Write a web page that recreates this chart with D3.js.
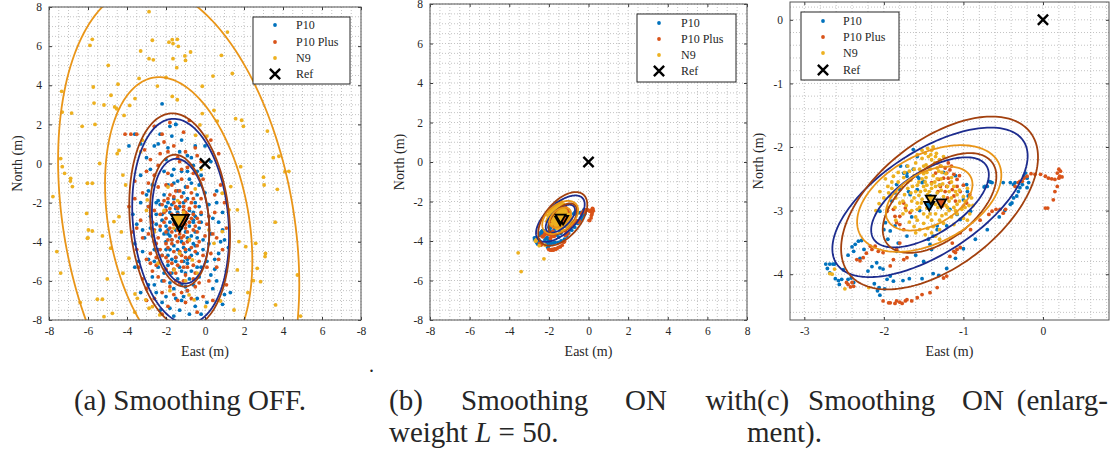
<!DOCTYPE html>
<html>
<head>
<meta charset="utf-8">
<script src="https://cdn.jsdelivr.net/npm/d3@7"></script>
<style>
  body { margin: 0; background: #fff; }
  svg text { font-family: "Liberation Serif", "DejaVu Serif", serif; fill: #262626; }
</style>
</head>
<body>
<svg id="fig" width="1114" height="450" font-family="Liberation Serif, DejaVu Serif, serif"></svg>
<script>
// ---- data ----
const seriesNames = ["P10", "P10 Plus", "N9"];
const refPoint = [0, 0];

// (a) smoothing off: scatter
const offP10 = [[-1.2,-3.1],[-0.8,-2.4],[-1.9,-3.6],[-0.5,-4.2],[-1.6,-1.8],[-2.2,-2.9],[-0.9,-5.1],[-1.4,-0.9],[-0.3,-3.3],[-2.6,-4.4],
  [-1.0,-1.2],[-1.7,-5.6],[0.2,-2.1],[-2.9,-2.2],[-0.6,-6.2],[-1.3,-4.6],[-2.1,-0.4],[-0.2,-0.6],[-3.1,-3.8],[0.5,-4.9],
  [-1.8,-2.5],[-0.7,-3.7],[-1.5,-3.4],[-2.4,-5.3],[-0.4,-1.6],[-1.1,-6.8],[-2.7,-1.1],[0.7,-3.0],[-3.4,-5.0],[-1.9,0.8],
  [-0.9,0.4],[-2.3,1.5],[-1.5,2.0],[-3.6,1.5],[-2.6,0.9],[-0.5,0.9],[0.3,0.1],[-3.0,0.3],[-1.8,-7.4],[-0.8,-7.7],
  [0.1,-7.1],[-2.5,-6.6],[1.1,-5.5],[0.9,-2.5],[-3.7,-2.6],[-3.3,-0.6],[0.6,-1.4],[-2.2,-6.0],[-1.4,-5.9],[0.4,-6.4],
  [-1.1,-2.0],[-1.6,-2.7],[-0.6,-2.9],[-2.0,-4.0],[-1.2,-4.0],[-0.4,-5.3],[-2.8,-3.3],[-1.7,-4.9],[-0.1,-4.4],[-1.0,-3.5],
  [-2.1,-1.6],[-0.2,-2.6],[-1.4,-1.4],[-2.5,-2.6],[-0.7,-4.7],[-1.9,-5.2],[-1.0,-5.6],[-2.3,-3.4],[-0.3,-1.1],[-1.6,-0.3],
  [-0.9,-0.4],[-2.6,-4.0],[0.3,-3.6],[-1.3,-2.2],[-0.5,-2.0],[-1.8,-3.0],[-1.1,-4.3],[-2.0,-2.2],[-0.8,-3.2],[-1.5,-5.0],
  [-0.3,-5.8],[-2.7,-5.8],[-3.2,-4.5],[0.8,-4.0],[1.0,-6.7],[-3.5,-3.1],[-1.2,-7.0],[-0.5,-7.3],[0.0,0.9],[-2.8,-0.3],
  [-1.2,1.2],[-3.9,0.9],[-1.8,1.9],[-2.0,-6.8],[0.5,-5.4],[-2.9,-6.2],[-1.6,-6.4],[1.2,-4.3],[-3.6,-4.1],[-0.6,-0.1],
  [-1.9,-1.1],[-2.4,-1.9],[0.4,-2.8],[-1.3,-3.8],[-0.7,-5.5],[-2.2,-4.7],[-1.0,-2.7],[-1.7,-3.9],[-0.4,-3.8],[-2.5,-3.1],
  [-1.4,-4.4],[-0.9,-1.8],[-1.9,-2.0],[-1.1,-5.0],[-2.1,-3.6],[-0.6,-4.1],[-1.5,-2.3],[-0.2,-3.0],[-1.8,-4.4],[-1.2,-6.2],
  [0.1,-5.0],[-2.6,-5.0],[-3.0,-1.6],[0.6,-6.0],[-1.6,-7.8],[-2.3,-7.5],[-0.9,-6.5],[1.3,-6.6],[-2.2,3.05],[-1.5,2.0],
  [-1.5,-2.9],[-0.9,-3.8],[-1.7,-2.1],[-1.1,-1.5],[-0.6,-2.5],[-2.0,-3.2],[-1.3,-5.3],[-0.8,-5.9],[-1.9,-4.7],[-0.4,-4.6],
  [-2.3,-2.1],[-1.2,-0.4],[-0.7,-1.0],[-1.6,-1.0],[-2.4,-4.4],[-0.1,-3.9],[-1.0,-4.5],[-1.4,-3.1],[-0.5,-3.5],[-2.1,-5.6],
  [-1.8,-6.1],[-0.2,-5.3],[-2.7,-3.7],[-2.9,-4.9],[0.2,-4.1],[-1.6,-4.2],[-1.1,-3.0],[-2.2,-2.6],[-0.3,-2.2],[-1.4,-2.5],
  [-0.9,-4.9],[-1.9,-3.4],[-0.6,-3.0],[-1.2,-5.5],[-2.5,-2.0],[-1.7,-0.6],[-0.8,-0.8],[-2.8,-2.7],[0.0,-1.5],[-3.2,-3.4],
  [-1.0,-6.3],[-1.5,-6.9],[-0.4,-6.9],[-2.6,-6.2],[0.3,-5.7],[0.7,-4.6],[0.9,-3.4],[-3.3,-2.0],[-2.9,-1.4],[-1.3,0.6],
  [-2.0,0.2],[-0.7,0.3],[-2.4,1.0],[-3.3,1.0],[-1.7,1.4],[-0.4,-0.4],[0.6,-2.0],[1.0,-3.9],[-3.6,-5.3],[-3.3,-6.6],
  [-2.2,-7.1],[-1.3,-7.5],[-0.2,-7.7],[0.9,-7.2],[-1.5,-4.8],[-0.8,-4.4],[-2.0,-4.4],[-1.2,-3.3],[-1.8,-3.7],[-0.5,-2.7]];
const offPlus = [[-1.3,-3.0],[-0.9,-2.6],[-1.7,-3.5],[-1.1,-4.1],[-1.5,-2.2],[-0.6,-3.4],[-2.0,-2.8],[-1.2,-1.7],[-0.8,-4.8],[-1.6,-4.5],
  [-1.0,-3.3],[-1.9,-3.9],[-0.5,-2.2],[-2.3,-3.2],[-1.4,-5.2],[-0.7,-1.5],[-2.1,-1.9],[-1.8,-5.6],[-0.3,-4.0],[-1.1,-2.4],
  [-1.5,-3.7],[-0.4,-2.8],[-2.5,-4.1],[-1.0,-5.7],[-1.7,-1.1],[-0.2,-1.8],[-2.6,-2.4],[-1.3,-6.1],[-0.6,-5.2],[-2.2,-4.7],
  [-1.2,-0.8],[-1.9,-0.5],[-0.9,-0.2],[-2.4,-1.2],[-2.9,-3.6],[0.1,-3.1],[0.3,-4.6],[-3.0,-4.9],[-0.5,-6.3],[-1.6,-6.7],
  [-2.1,-6.0],[0.2,-6.0],[-2.7,-5.5],[-3.3,-2.9],[-3.2,-1.5],[0.5,-2.5],[0.6,-3.8],[-1.4,0.3],[-2.3,0.5],[-0.4,0.4],
  [-4.1,1.5],[-3.8,1.5],[-3.5,1.5],[-3.1,0.7],[-2.2,1.5],[-2.1,1.1],[-1.9,0.6],[-1.3,0.1],[0.3,1.2],[0.7,0.5],
  [-0.5,0.8],[-2.8,0.2],[-3.6,-0.9],[-3.9,-2.2],[-3.5,-4.4],[-3.2,-5.9],[-2.6,-6.9],[-1.9,-7.3],[-1.0,-7.1],[-0.1,-6.8],
  [0.6,-5.3],[0.9,-4.4],[1.0,-2.0],[-0.1,-0.8],[-0.7,-2.0],[-1.4,-2.6],[-1.8,-2.3],[-1.1,-3.7],[-0.8,-3.0],[-1.6,-3.1],
  [-2.0,-3.5],[-1.3,-4.5],[-0.7,-4.3],[-1.9,-4.3],[-1.0,-4.8],[-1.5,-1.4],[-0.9,-1.2],[-2.3,-2.6],[-0.4,-3.5],[-1.2,-5.0],
  [-1.7,-5.1],[-0.6,-5.9],[-2.0,-5.4],[-1.1,-2.9],[-1.4,-3.4],[-0.5,-4.5],[-2.4,-3.8],[-1.8,-1.6],[-1.0,-1.9],[-0.2,-2.5],
  [-2.7,-3.0],[-1.5,-6.0],[-0.9,-6.5],[-2.4,-5.8],[0.0,-3.7],[-2.8,-4.6],[-1.2,-3.8],[-1.6,-2.0],[-0.3,-5.0],[-1.7,-4.1],
  [-0.8,-3.9],[-2.1,-2.5],[-1.0,-2.5],[-1.3,-2.0],[-2.0,-4.8],[-0.6,-2.6],[-1.4,-7.0],[-0.4,-7.6],[-2.2,-7.7],[0.4,-7.0],
  [-3.0,-7.0],[1.1,-6.2],[-2.9,-1.0],[0.8,-1.1],[-1.8,2.1],[-2.6,1.9],[-1.1,1.6],[-0.8,2.2],
  [-1.2,-3.2],[-1.5,-2.8],[-0.9,-3.5],[-1.8,-3.3],[-1.1,-2.2],[-1.4,-4.0],[-0.7,-2.8],[-2.0,-4.1],[-1.6,-5.4],[-0.9,-5.3],
  [-1.3,-1.4],[-0.6,-1.8],[-2.2,-2.1],[-1.7,-2.6],[-0.5,-3.2],[-1.0,-4.4],[-2.3,-4.4],[-1.5,-4.8],[-0.4,-4.2],[-1.9,-1.8],
  [-1.1,-6.0],[-1.8,-6.3],[-0.7,-6.9],[-2.5,-5.2],[-2.6,-3.4],[0.2,-2.7],[0.4,-3.6],[-0.1,-4.7],[-2.9,-2.2],[-3.2,-3.8],
  [-1.2,-0.3],[-0.6,-0.5],[-2.0,-1.1],[-2.6,-0.6],[-0.2,0.1],[-1.6,0.9],[-1.0,0.6],[-2.8,-5.1],[-3.5,-3.3],[0.7,-4.9],
  [-1.4,-2.3],[-1.0,-3.1],[-1.7,-3.9],[-1.2,-4.7],[-0.8,-2.3],[-2.1,-3.0],[-1.9,-5.0],[-0.5,-5.6],[-2.2,-6.6],[-1.2,-6.6],
  [-0.3,-6.1],[0.1,-5.3],[-3.0,-6.4],[-3.4,-5.3],[-3.7,-3.5],[-3.6,-1.8],[-3.0,-0.4],[-2.4,-0.1],[0.5,-1.6],[1.1,-3.3],
  [-1.3,-3.6],[-1.6,-1.7],[-0.3,-3.0],[-2.5,-4.8],[-0.9,-4.0],[-1.5,-5.6],[-2.0,-2.4],[-1.1,-5.3]];
const offN9 = [[-2.87,7.76],[1.15,6.72],[-5.78,6.35],[-5.9,6.04],[-2.7,6.3],[-1.85,6.2],[-1.68,6.33],[-1.42,6.35],[-1.37,5.99],[-1.64,6.13],
  [-3.3,5.75],[-2.87,5.36],[-2.65,5.3],[-1.03,5.5],[-1.0,5.27],[-0.74,5.7],[-1.64,5.36],[-1.45,4.9],[-4.96,5.02],[0.84,5.53],
  [1.4,4.6],[0.41,4.47],[-3.38,4.35],[-4.46,4.05],[-5.73,3.91],[-7.35,3.69],[-2.44,3.96],[-0.14,3.95],[-4.82,3.49],[-5.69,3.09],
  [-5.18,2.99],[-4.63,2.89],[-4.53,2.8],[-3.86,2.97],[-3.59,3.32],[-1.68,3.43],[-1.42,3.26],[-7.32,2.63],[-6.84,2.58],[-4.15,2.46],
  [-0.14,2.55],[0.46,2.72],[1.57,2.29],[-5.64,2.0],[1.88,2.21],[1.97,1.9],[3.2,1.66],[-0.26,1.97],[0.63,2.17],[-7.4,0.25],
  [-0.48,1.44],[-4.41,0.67],[-4.5,0.5],[3.79,0.37],[-3.21,1.19],[-7.8,-1.69],[-7.32,-0.16],[-6.89,-0.76],[-6.03,-1.01],[-5.78,-1.01],
  [-6.8,-1.18],[-6.07,-2.55],[-5.98,-3.4],[-5.78,-3.45],[-6.03,-3.82],[-5.26,-3.7],[-4.84,-4.33],[-5.01,-5.9],[-5.52,-6.94],[-5.26,-6.94],
  [-5.18,-7.83],[-4.75,-7.66],[-4.67,-2.97],[-4.41,-2.72],[-4.29,-3.5],[-4.21,-0.59],[-3.9,-4.84],[-4.21,-5.61],[-3.59,-6.67],[-3.47,-6.89],
  [-3.04,-6.97],[-2.87,-7.4],[-2.7,-7.32],[-2.32,-7.74],[-0.82,-6.72],[-0.56,-6.97],[0.03,-7.32],[0.8,-7.03],[1.49,-7.49],[1.74,-3.99],
  [2.09,-4.25],[2.6,-4.08],[2.68,-5.36],[2.48,-5.99],[2.85,-6.04],[3.08,-4.76],[3.62,-7.23],[4.74,-5.7],[4.1,-0.42],[3.71,-1.32],
  [3.03,-1.1],[1.83,-0.16],[1.32,-1.18],[1.23,-2.37],[1.66,-2.37],[0.89,-1.52],[0.89,-3.48],[0.46,-4.08],[1.66,-5.44],[-2.96,-1.86],
  [-4.07,-1.1],[-0.65,-4.93],[-1.59,-5.44],[4.9,-7.8],[3.6,-3.0],[3.0,-0.7],[-7.2,-0.5],[-6.9,-0.9],[-6.0,-3.8],[-5.4,0.0],
  [-1.1,-2.5],[-1.6,-3.3],[-0.8,-3.9],[-2.1,-2.4],[-1.3,-4.6],[-0.5,-1.3],[-2.4,-5.1],[-1.9,-1.2],[-0.4,-5.6],[-1.4,-1.9],
  [-2.6,-3.5],[0.2,-3.4],[-1.0,-6.0],[-1.8,-6.5],[-3.0,-2.4],[-0.2,-0.3],[-3.3,0.6],[0.1,1.4],[-2.0,4.4],[-6.3,1.9],
  [3.5,0.3],[4.3,-0.4],[3.1,-4.6],[2.2,-6.6],[-6.4,-7.1],[-7.4,-5.6],[-7.6,-4.5],[-3.6,-7.6]];

// (a) mean positions and confidence ellipses [cx, cy, semi-major, semi-minor, angle deg]
const offMeans = [[-1.3,-3.05],[-1.2,-2.85],[-1.35,-2.85]];
const offEllipses = [
  [[-1.25,-2.95,3.2,1.45,95],[-1.25,-2.95,5.25,2.45,95]],
  [[-1.3,-2.92,3.38,1.5,95],[-1.3,-2.92,5.5,2.55,95]],
  [[-1.35,-3.0,7.5,3.6,100],[-1.35,-3.0,12.2,5.9,100]]
];

// (b)/(c) smoothing on: scatter (c is an enlargement of b)
const onP10 = [[-2.73,-3.84],[-2.71,-3.91],[-2.68,-3.84],[-2.64,-3.84],[-2.62,-3.84],[-2.68,-3.98],[-2.61,-4.07],[-2.57,-4.10],[-2.53,-4.08],[-2.56,-4.16],
  [-2.51,-3.93],[-2.45,-4.08],[-2.41,-4.06],[-2.38,-4.13],[-2.40,-3.57],[-2.38,-3.64],[-2.36,-3.53],[-2.32,-3.48],[-2.28,-3.47],[-2.25,-3.61],
  [-2.15,-3.88],[-2.09,-3.82],[-2.05,-3.90],[-2.01,-3.92],[-1.96,-4.08],[-1.92,-4.03],[-1.88,-4.11],[-2.06,-4.21],[-2.05,-4.33],[-2.08,-4.26],
  [-2.05,-3.01],[-1.98,-3.19],[-1.92,-3.32],[-1.86,-3.24],[-1.82,-3.51],[-1.84,-3.64],[-1.71,-3.40],
  [-1.76,-4.10],[-1.68,-4.07],[-1.52,-4.07],[-1.38,-3.99],[-1.31,-4.02],[-1.21,-3.91],
  [-1.44,-3.45],[-1.42,-3.53],[-1.38,-3.40],[-1.40,-3.61],[-1.33,-3.30],
  [-1.58,-2.46],[-1.52,-2.56],[-1.71,-2.41],[-1.80,-2.67],[-1.67,-2.75],
  [-0.22,-2.41],[-0.20,-2.49],[-0.24,-2.46],[-0.18,-2.56],[-0.26,-2.59],[-0.29,-2.64],[-0.20,-2.64],[-0.35,-2.56],[-0.41,-2.56],[-0.37,-2.59],
  [-0.50,-2.56],[-0.64,-2.56],[-0.68,-2.54],[-0.70,-2.62],[-0.74,-2.63],[-0.31,-2.70],[-0.33,-2.77],[-0.37,-2.80],[-0.39,-2.88],[-0.41,-2.90],
  [-0.66,-2.55],[-0.73,-2.62],[-0.94,-2.77],[-0.96,-2.59],
  [-1.63,-2.35],[-1.56,-2.49],[-1.50,-2.54],[-1.58,-2.67],[-1.71,-2.46],[-1.69,-2.70],[-1.46,-2.88],[-1.42,-2.77],[-1.17,-2.98],[-1.08,-3.06],
  [-1.04,-3.14],[-1.00,-2.83],[-0.91,-3.01],[-1.21,-3.24],[-1.33,-3.24],[-1.46,-2.90],[-1.79,-2.30],[-1.75,-2.41],[-1.84,-2.59],[-1.86,-2.72],[-1.90,-2.85],
  [-1.63,-2.04],[-1.58,-2.15],[-1.71,-2.30],
  [-2.3,-3.75],[-2.2,-3.95],[-2.12,-4.15],[-1.99,-4.23],[-2.45,-3.7],[-2.0,-3.3],[-1.95,-3.45],[-1.6,-3.7],[-1.5,-3.8],[-1.1,-3.75],
  [-1.0,-3.6],[-0.85,-3.45],[-0.7,-3.3],[-0.55,-3.1],[-0.48,-3.0],
  [-1.25,-2.4],[-1.1,-2.45],[-0.95,-2.7],[-1.3,-2.6],[-1.55,-3.0],[-1.65,-3.1]];
const onPlus = [[0.20,-2.35],[0.22,-2.38],[0.18,-2.41],[0.21,-2.46],[0.24,-2.47],[0.20,-2.49],[0.15,-2.51],[0.11,-2.50],[0.07,-2.49],[0.03,-2.46],
  [-0.03,-2.43],[-0.10,-2.43],[-0.15,-2.42],[-0.20,-2.46],[-0.24,-2.49],[-0.26,-2.54],[0.18,-2.62],[0.15,-2.70],[0.13,-2.83],[0.06,-2.96],
  [0.03,-2.96],[-0.31,-2.56],[-0.29,-2.54],[-0.35,-2.62],[-0.47,-2.98],[-0.54,-2.98],[-0.64,-3.01],
  [-0.59,-2.98],[-0.68,-3.06],[-0.79,-3.15],[-0.91,-3.30],[-1.04,-3.35],[-1.14,-3.51],[-1.10,-3.66],[-1.04,-3.58],[-1.17,-3.72],
  [-1.94,-4.45],[-1.84,-4.42],[-1.77,-4.46],[-1.71,-4.40],[-1.65,-4.42],[-1.58,-4.37],[-1.52,-4.32],[-1.42,-4.29],[-2.01,-4.42],
  [-2.45,-4.16],[-2.42,-4.20],[-2.38,-4.19],[-2.40,-4.13],[-2.47,-4.13],[-2.34,-3.77],[-2.30,-3.79],[-2.26,-3.74],[-2.22,-3.67],[-2.17,-3.56],
  [-2.15,-3.61],[-2.11,-3.56],[-2.07,-3.64],[-2.01,-3.66],[-1.92,-3.87],[-1.88,-3.77],[-1.84,-3.61],[-1.80,-3.51],[-1.80,-3.22],[-1.86,-3.09],
  [-1.96,-3.01],[-1.75,-3.77],[-1.71,-3.74],
  [-1.92,-4.45],[-1.86,-4.46],[-1.80,-4.44],[-1.73,-4.42],
  [-1.33,-4.21],[-1.25,-4.06],[-1.21,-4.03],[-1.12,-3.64],[-1.08,-3.61],
  [-1.33,-2.25],[-1.29,-2.30],[-1.23,-2.33],[-1.21,-2.41],[-1.19,-2.49],[-1.17,-2.56],[-1.25,-2.49],[-1.31,-2.51],[-1.14,-2.67],[-1.08,-2.62],
  [-1.04,-2.70],[-1.12,-2.77],[-1.21,-2.62],[-1.25,-2.88],[-1.27,-2.93],[-1.00,-2.93],[-0.96,-2.88],[-1.12,-2.43],[-1.08,-2.51],[-1.35,-2.41],
  [-1.40,-2.56],[-1.23,-2.70],[-1.19,-2.25],[-1.17,-2.36],[-1.29,-2.62],
  [-1.75,-2.88],[-1.73,-2.96],[-1.67,-3.03],[-1.80,-3.09],[-1.88,-2.98],[-1.84,-3.19],[-1.75,-3.30],
  [-1.15,-2.3],[-1.05,-2.45],[-1.0,-2.6],[-0.92,-2.75],[-1.2,-2.8],[-1.1,-2.85],[-1.32,-2.7],[-0.5,-3.04]];
const onN9 = [[-1.45,-2.75],[-1.40,-2.65],[-1.52,-2.82],[-1.35,-2.90],[-1.60,-2.70],[-1.30,-2.60],[-1.48,-2.55],[-1.55,-2.95],[-1.25,-2.78],[-1.65,-2.85],
  [-1.38,-2.45],[-1.42,-2.35],[-1.36,-2.25],[-1.44,-2.15],[-1.40,-2.05],[-1.34,-2.10],[-1.47,-2.28],[-1.31,-2.38],[-1.50,-2.42],[-1.28,-2.50],
  [-1.70,-2.55],[-1.78,-2.62],[-1.85,-2.70],[-1.75,-2.48],[-1.90,-2.55],[-1.82,-2.40],[-1.68,-2.38],[-1.92,-2.78],[-1.72,-2.92],[-1.80,-2.88],
  [-1.20,-2.95],[-1.10,-3.00],[-1.05,-2.85],[-0.98,-2.95],[-0.92,-3.05],[-1.15,-3.10],[-1.00,-3.12],[-0.88,-2.92],[-1.18,-2.70],[-1.08,-2.75],
  [-1.45,-3.10],[-1.50,-3.20],[-1.38,-3.25],[-1.55,-3.30],[-1.42,-3.05],[-1.60,-3.10],[-1.30,-3.15],[-1.65,-3.00],[-1.35,-3.05],[-1.25,-3.20],
  [-1.58,-2.60],[-1.62,-2.45],[-1.55,-2.35],[-1.60,-2.25],[-1.52,-2.18],[-1.28,-2.30],[-1.22,-2.42],[-1.15,-2.55],[-1.12,-2.62],[-1.05,-2.68],
  [-1.48,-2.68],[-1.42,-2.88],[-1.33,-2.72],[-1.56,-2.76],[-1.38,-2.82],[-1.46,-2.96],[-1.26,-2.88],[-1.52,-2.50],[-1.36,-2.55],[-1.64,-2.62],
  [-1.74,-2.75],[-1.86,-2.95],[-1.95,-2.62],[-1.88,-2.46],[-1.76,-3.05],[-1.68,-3.18],[-1.00,-2.78],[-0.95,-2.65],[-0.90,-2.80],[-1.12,-3.22],
  [-1.22,-3.05],[-1.32,-2.95],[-1.40,-2.58],[-1.46,-2.40],[-1.58,-2.88],[-1.66,-2.72],[-1.18,-2.85],[-1.08,-2.90],[-1.28,-2.68],[-1.70,-2.30],
  [-1.48,-3.38],[-1.40,-3.35],[-1.30,-3.30],[-1.62,-3.25],[-1.85,-3.15],[-1.95,-2.95],[-2.00,-2.80],[-2.05,-2.70],[-1.98,-2.50],[-0.95,-3.15],
  [-1.52,-2.05],[-1.48,-2.10],[-1.38,-2.00],[-1.30,-2.20],[-1.25,-2.15],[-1.58,-2.12],
  [-1.50,-2.62],[-1.43,-2.70],[-1.37,-2.78],[-1.53,-2.88],[-1.47,-2.48],[-1.33,-2.50],[-1.62,-2.80],[-1.58,-2.98],[-1.26,-2.58],[-1.20,-2.62],
  [-1.44,-2.32],[-1.40,-2.20],[-1.33,-2.33],[-1.56,-2.55],[-1.70,-2.65],[-1.76,-2.85],[-1.82,-2.55],[-1.66,-2.52],[-1.15,-2.80],[-1.10,-2.70],
  [-1.02,-2.98],[-1.18,-3.00],[-1.27,-3.08],[-1.40,-3.15],[-1.50,-3.05],[-1.58,-3.15],[-1.72,-3.00],[-1.85,-2.80],[-1.90,-2.65],[-1.94,-2.72],
  [-1.35,-2.62],[-1.46,-2.60],[-1.54,-2.70],[-1.30,-2.85],[-1.22,-2.92],[-1.12,-2.95],[-0.98,-2.85],[-0.93,-2.92],[-1.62,-2.35],[-1.74,-2.40],
  [-1.45,-2.02],[-1.41,-2.12],[-1.35,-2.15],[-1.50,-2.30],[-1.27,-2.40],[-1.60,-3.35],[-1.45,-3.28],[-1.35,-3.40],[-1.08,-3.05],[-1.15,-2.48],
  [-2.68,-3.99],[-2.19,-4.21],[-2.49,-4.23],[-2.06,-2.89],[-2.1,-3.0],[-2.65,-4.0],[-1.3,-3.45],
  [-3.55,-4.6],[-3.4,-5.55],[-2.25,-4.9],[-2.62,-3.92]];

const onMeans = [[-1.43,-2.91],[-1.28,-2.87],[-1.41,-2.81]];
const onEllipses = [
  [[-1.42,-2.87,0.92,0.45,43],[-1.42,-2.87,1.53,0.74,43]],
  [[-1.3,-2.88,0.93,0.51,50],[-1.3,-2.88,1.61,0.886,50]],
  [[-1.43,-2.81,0.63,0.39,40],[-1.43,-2.81,1.05,0.65,40]]
];

// tick values and labels
const ticksWide = [-8, -6, -4, -2, 0, 2, 4, 6, 8];
const xLabelsA = ["-8", "-6", "-4", "-2", "0", "2", "4", "6", "-8"];
const labelsWide = ["-8", "-6", "-4", "-2", "0", "2", "4", "6", "8"];
const xTicksC = [-3, -2, -1, 0];
const yTicksC = [-4, -3, -2, -1, 0];

// ---- styles / layout ----
const markerColors = ["#0072BD", "#D95319", "#EDB120"];
const ellipseColors = ["#1d2c8e", "#a2400e", "#e99518"];
const serif = '"Liberation Serif", "DejaVu Serif", serif';

const panels = [
  { id: "a", left: 49, top: 7, width: 312, height: 313, xDomain: [-8, 8], yDomain: [-8, 8],
    xTicks: ticksWide, xLabels: xLabelsA, yTicks: ticksWide, yLabels: labelsWide, minor: 0.5,
    scatter: [offP10, offPlus, offN9], means: offMeans, ellipses: offEllipses, triW: 15,
    legend: { x: 253, y: 17, w: 97, h: 67, rows: [25, 42, 58, 74], mx: 275, tx: 296 }, ylabX: 22 },
  { id: "b", left: 430, top: 4, width: 317, height: 316, xDomain: [-8, 8], yDomain: [-8, 8],
    xTicks: ticksWide, xLabels: labelsWide, yTicks: ticksWide, yLabels: labelsWide, minor: 0.5,
    scatter: [onP10, onPlus, onN9], means: onMeans, ellipses: onEllipses, triW: 10,
    legend: { x: 637, y: 14, w: 99, h: 68, rows: [23, 39, 55, 71], mx: 659, tx: 681 }, ylabX: 404 },
  { id: "c", left: 790, top: 2, width: 319, height: 318, xDomain: [-3.18, 0.83], yDomain: [-4.72, 0.28],
    xTicks: xTicksC, xLabels: xTicksC.map(String), yTicks: yTicksC, yLabels: yTicksC.map(String), minor: 0.2,
    scatter: [onP10, onPlus, onN9], means: onMeans, ellipses: onEllipses, triW: 10,
    legend: { x: 801, y: 12, w: 98, h: 68, rows: [21, 37, 53, 70], mx: 823, tx: 843 }, ylabX: 763 }
];

const svg = d3.select("#fig");

function ellipsePoints(e) {
  const [cx, cy, a, b, deg] = e;
  const t = deg * Math.PI / 180;
  return d3.range(0, 360, 2).map(k => {
    const u = k * Math.PI / 180;
    return [cx + a * Math.cos(u) * Math.cos(t) - b * Math.sin(u) * Math.sin(t),
            cy + a * Math.cos(u) * Math.sin(t) + b * Math.sin(u) * Math.cos(t)];
  });
}

function drawPanel(p) {
  const x = d3.scaleLinear().domain(p.xDomain).range([p.left, p.left + p.width]);
  const y = d3.scaleLinear().domain(p.yDomain).range([p.top + p.height, p.top]);
  const g = svg.append("g").attr("class", "panel-" + p.id);

  svg.append("clipPath").attr("id", "clip-" + p.id)
    .append("rect").attr("x", p.left).attr("y", p.top).attr("width", p.width).attr("height", p.height);

  // dotted grid
  const gx = d3.range(Math.ceil(p.xDomain[0] / p.minor) * p.minor, p.xDomain[1] + 1e-9, p.minor);
  const gy = d3.range(Math.ceil(p.yDomain[0] / p.minor) * p.minor, p.yDomain[1] + 1e-9, p.minor);
  const grid = g.append("g").attr("stroke", "#b4b4b4").attr("stroke-width", 0.8).attr("stroke-dasharray", "1,2");
  grid.selectAll("line.vx").data(gx).enter().append("line")
    .attr("x1", d => x(d)).attr("x2", d => x(d)).attr("y1", p.top).attr("y2", p.top + p.height);
  grid.selectAll("line.hy").data(gy).enter().append("line")
    .attr("y1", d => y(d)).attr("y2", d => y(d)).attr("x1", p.left).attr("x2", p.left + p.width);

  const plot = g.append("g").attr("clip-path", "url(#clip-" + p.id + ")");

  // scatter
  p.scatter.forEach((pts, i) => {
    plot.append("g").selectAll("circle").data(pts).enter().append("circle")
      .attr("cx", d => x(d[0])).attr("cy", d => y(d[1])).attr("r", 1.9)
      .attr("fill", markerColors[i]);
  });

  // ellipses
  const line = d3.line().x(d => x(d[0])).y(d => y(d[1])).curve(d3.curveLinearClosed);
  p.ellipses.forEach((pair, i) => {
    pair.forEach(e => {
      plot.append("path").attr("d", line(ellipsePoints(e)))
        .attr("fill", "none").attr("stroke", ellipseColors[i]).attr("stroke-width", 1.8);
    });
  });

  // means
  const tri = d3.symbol().type(d3.symbolTriangle).size(Math.sqrt(3) / 4 * p.triW * p.triW);
  p.means.forEach((m, i) => {
    plot.append("path").attr("d", tri())
      .attr("transform", `translate(${x(m[0])},${y(m[1])}) rotate(180)`)
      .attr("fill", markerColors[i]).attr("stroke", "#000").attr("stroke-width", 1.8);
  });

  // reference
  const cross = d3.symbol().type(d3.symbolTimes || d3.symbolX).size(70);
  plot.append("path").attr("d", cross())
    .attr("transform", `translate(${x(refPoint[0])},${y(refPoint[1])})`)
    .attr("fill", "none").attr("stroke", "#000").attr("stroke-width", 2.4);

  // axes, ticks inward on all sides
  const axG = g.append("g");
  const bottom = axG.append("g").attr("transform", `translate(0,${p.top + p.height})`)
    .call(d3.axisBottom(x).tickValues(p.xTicks).tickFormat((d, i) => p.xLabels[i]).tickSizeInner(-3).tickSizeOuter(0).tickPadding(7));
  const left = axG.append("g").attr("transform", `translate(${p.left},0)`)
    .call(d3.axisLeft(y).tickValues(p.yTicks).tickFormat((d, i) => p.yLabels[i]).tickSizeInner(-3).tickSizeOuter(0).tickPadding(7));
  const top = axG.append("g").attr("transform", `translate(0,${p.top})`)
    .call(d3.axisTop(x).tickValues(p.xTicks).tickFormat("").tickSizeInner(-3).tickSizeOuter(0));
  const right = axG.append("g").attr("transform", `translate(${p.left + p.width},0)`)
    .call(d3.axisRight(y).tickValues(p.yTicks).tickFormat("").tickSizeInner(-3).tickSizeOuter(0));
  [bottom, left, top, right].forEach(a => {
    a.attr("font-family", serif).attr("font-size", 11.5);
    a.select(".domain").remove();
    a.selectAll("line").attr("stroke", "#3a3a3a");
    a.selectAll("text").attr("fill", "#262626");
  });
  g.append("rect").attr("x", p.left).attr("y", p.top).attr("width", p.width).attr("height", p.height)
    .attr("fill", "none").attr("stroke", "#555").attr("stroke-width", 1);

  // axis titles
  g.append("text").attr("x", p.left + p.width / 2).attr("y", 356).attr("text-anchor", "middle")
    .attr("font-size", 14).text("East (m)");
  g.append("text").attr("transform", `translate(${p.ylabX},${p.top + p.height / 2}) rotate(-90)`)
    .attr("text-anchor", "middle").attr("font-size", 14).text("North (m)");

  // legend
  const L = p.legend;
  const lg = g.append("g");
  lg.append("rect").attr("x", L.x).attr("y", L.y).attr("width", L.w).attr("height", L.h)
    .attr("fill", "#fff").attr("stroke", "#262626").attr("stroke-width", 1);
  seriesNames.forEach((name, i) => {
    lg.append("circle").attr("cx", L.mx).attr("cy", L.rows[i]).attr("r", 1.9).attr("fill", markerColors[i]);
    lg.append("text").attr("x", L.tx).attr("y", L.rows[i] + 4).attr("font-size", 12).text(name);
  });
  lg.append("path").attr("d", cross()).attr("transform", `translate(${L.mx},${L.rows[3]})`)
    .attr("fill", "none").attr("stroke", "#000").attr("stroke-width", 2.4);
  lg.append("text").attr("x", L.tx).attr("y", L.rows[3] + 4).attr("font-size", 12).text("Ref");
}

panels.forEach(drawPanel);

// stray period between panels a and b
svg.append("text").attr("x", 369).attr("y", 372).attr("font-size", 20).text(".");

// sub-captions: line (a) centred, lines (b)/(c) justified word by word
const cap = svg.append("g").attr("font-size", 29);
cap.append("text").attr("x", 190).attr("y", 410).attr("text-anchor", "middle").text("(a) Smoothing OFF.");
const captionWords = [
  { t: "(b)", x: 389, y: 410, a: "start" }, { t: "Smoothing", x: 461, y: 410, a: "start" },
  { t: "ON", x: 625, y: 410, a: "start" }, { t: "with", x: 757, y: 410, a: "end" },
  { t: "(c)", x: 757, y: 410, a: "start" }, { t: "Smoothing", x: 808, y: 410, a: "start" },
  { t: "ON", x: 962, y: 410, a: "start" }, { t: "(enlarg-", x: 1108, y: 410, a: "end" },
  { t: "ment).", x: 747, y: 442, a: "start" }
];
captionWords.forEach(c => {
  cap.append("text").attr("x", c.x).attr("y", c.y).attr("text-anchor", c.a).text(c.t);
});
const lt = cap.append("text").attr("x", 389).attr("y", 442);
lt.append("tspan").text("weight ");
lt.append("tspan").attr("font-style", "italic").text("L");
lt.append("tspan").text(" = 50.");
</script>
</body>
</html>
